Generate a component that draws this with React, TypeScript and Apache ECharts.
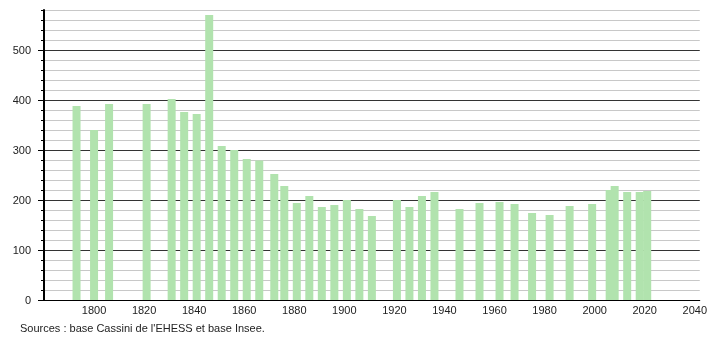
import React, { useEffect, useRef } from "react";
import * as echarts from "echarts";

const years = [1793, 1800, 1806, 1821, 1831, 1836, 1841, 1846, 1851, 1856, 1861, 1866, 1872, 1876, 1881, 1886, 1891, 1896, 1901, 1906, 1911, 1921, 1926, 1931, 1936, 1946, 1954, 1962, 1968, 1975, 1982, 1990, 1999, 2006, 2008, 2013, 2018, 2021];
const population = [388, 340, 392, 392, 402, 376, 372, 570, 308, 300, 282, 279, 252, 228, 194, 208, 186, 190, 200, 182, 168, 200, 186, 208, 216, 182, 194, 196, 192, 174, 170, 188, 192, 220, 228, 216, 216, 218];
const sourceText = "Sources : base Cassini de l'EHESS et base Insee.";

export default function App() {
  const ref = useRef<HTMLDivElement>(null);
  useEffect(() => {
    if (!ref.current) return;
    const chart = echarts.init(ref.current, null, { renderer: "svg" });
    const font = "'Liberation Sans', Arial, sans-serif";
    chart.setOption({
      animation: false,
      textStyle: { fontFamily: font },
      grid: { left: 44, top: 10, right: 10, bottom: 40, containLabel: false },
      xAxis: {
        type: "value",
        min: 1780,
        max: 2042,
        interval: 20,
        axisLine: { show: true, lineStyle: { color: "#000", width: 1 } },
        axisTick: { show: false },
        splitLine: { show: false },
        axisLabel: {
          color: "#222",
          fontSize: 11,
          fontFamily: font,
          margin: 4,
          showMaxLabel: false,
          formatter: (v: number) => (v === 1780 || v > 2040 ? "" : String(v)),
        },
      },
      yAxis: [
        {
          type: "value",
          min: 0,
          max: 580,
          interval: 20,
          position: "left",
          axisLine: { show: true, lineStyle: { color: "#000", width: 2 } },
          axisTick: { show: true, length: 3, lineStyle: { color: "#000" } },
          axisLabel: { show: false },
          splitLine: {
            show: true,
            lineStyle: { color: ["#333", "#c8c8c8", "#c8c8c8", "#c8c8c8", "#c8c8c8"], width: 1 },
          },
        },
        {
          type: "value",
          min: 0,
          max: 580,
          interval: 100,
          position: "left",
          axisLine: { show: false },
          axisTick: { show: true, length: 6, lineStyle: { color: "#000" } },
          splitLine: { show: false },
          axisLabel: {
            color: "#222",
            fontSize: 11,
            fontFamily: font,
            margin: 13,
            showMaxLabel: false,
            formatter: (v: number) => (v % 100 === 0 ? String(v) : ""),
          },
        },
      ],
      series: [
        {
          type: "bar",
          yAxisIndex: 0,
          barWidth: 8,
          barGap: "-100%",
          itemStyle: { color: "#b1e3ae" },
          data: years.map((y, i) => [y, population[i]]),
        },
      ],
      graphic: [
        {
          type: "text",
          left: 20,
          top: 322,
          style: { text: sourceText, fill: "#222", fontSize: 11, fontFamily: font },
        },
      ],
    });
    return () => chart.dispose();
  }, []);
  return <div ref={ref} style={{ position: "fixed", left: 0, top: 0, width: 710, height: 340 }} />;
}
